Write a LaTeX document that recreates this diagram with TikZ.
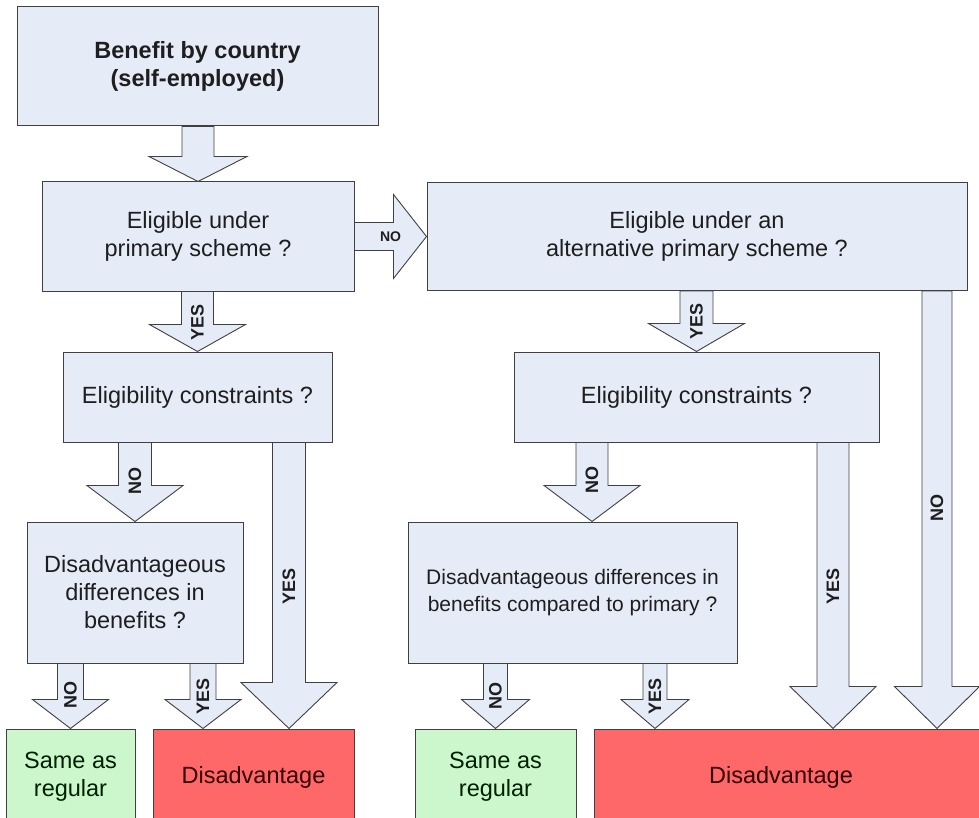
\documentclass[tikz,border=0pt]{standalone}
\usepackage{fontspec}
\setmainfont{Liberation Sans}
\usetikzlibrary{calc}
\definecolor{boxblue}{HTML}{E6ECF7}
\definecolor{samegreen}{HTML}{CCF7CC}
\definecolor{badred}{HTML}{FF6868}
\definecolor{edgegray}{HTML}{404040}
\definecolor{inkcolor}{HTML}{1E1E1E}

\tikzset{
  question/.style={draw = edgegray, fill = boxblue, line width = 1pt, rectangle, align = center,
    text = inkcolor, font = \fontsize{23.5}{28}\selectfont},
  samebox/.style={question, fill = samegreen, text = black!70!green!40!black},
  badbox/.style={question, fill = badred, text = black!80!red},
  fatarrow/.style={draw = edgegray, fill = boxblue, line width = 0.9pt, line join = miter},
  armlabel/.style={font = \bfseries\fontsize{18}{18}\selectfont, text = inkcolor, rotate = 90, inner sep = 0pt},
}

% block arrow: start (y only), tip, shaft half width, head half width, head length, label, label distance
\newcommand{\fatdown}[7]{%
  \draw [fatarrow] let \p1 = (#1), \p2 = (#2) in
    (\x2-#3pt, \y1) -- (\x2-#3pt, \y2+#5pt) -- (\x2-#4pt, \y2+#5pt) -- (\p2)
    -- (\x2+#4pt, \y2+#5pt) -- (\x2+#3pt, \y2+#5pt) -- (\x2+#3pt, \y1) -- cycle;
  \path let \p2 = (#2) in node [armlabel] at (\x2, \y2+#7pt) {#6};
}

\begin{document}
\begin{tikzpicture}[x = 1pt, y = -1pt]
        \useasboundingbox (0, 0) rectangle (979, 818);
        \clip (0, 0) rectangle (979, 818);

        % Boxes
        \node [question, minimum width = 361pt, minimum height = 119pt, font = \bfseries\fontsize{23.5}{28}\selectfont] (title) at (197.5, 66.5) {Benefit by country\\(self-employed)};
        \node [question, minimum width = 312pt, minimum height = 109pt] (elig1) at (198, 236.5) {Eligible under\\primary scheme ?};
        \node [question, minimum width = 540pt, minimum height = 108pt] (elig2) at (697, 236.5) {Eligible under an\\alternative primary scheme ?};
        \node [question, minimum width = 269pt, minimum height = 90pt] (cons1) at (197.5, 397) {Eligibility constraints ?};
        \node [question, minimum width = 365pt, minimum height = 90pt] (cons2) at (696.5, 397) {Eligibility constraints ?};
        \node [question, minimum width = 216pt, minimum height = 141pt] (dis1) at (135, 592.5) {Disadvantageous\\differences in\\benefits ?};
        \node [question, minimum width = 329pt, minimum height = 141pt, font = \fontsize{21}{27}\selectfont] (dis2) at (572.5, 592.5) {Disadvantageous differences in\\benefits compared to primary ?};
        \node [samebox, minimum width = 129pt, minimum height = 96pt] (same1) at (70.5, 777) {Same as\\regular};
        \node [badbox, minimum width = 201pt, minimum height = 96pt] (bad1) at (253.5, 777) {Disadvantage};
        \node [samebox, minimum width = 161pt, minimum height = 96pt] (same2) at (495.5, 777) {Same as\\regular};
        \node [badbox, minimum width = 396pt, minimum height = 96pt, text width = 380pt] (bad2) at (792, 777) {\hspace*{-22pt}Disadvantage};

        % Arrow tips that sit off centre
        \coordinate (dis2in) at ($(dis2.north) + (19.5, 0)$);
        \coordinate (bad1yes) at ($(bad1.north) + (35.5, 0)$);
        \coordinate (bad1in) at ($(bad1.north) + (-50.5, 0)$);
        \coordinate (bad2yes) at ($(bad2.north) + (41, 0)$);
        \coordinate (bad2no) at ($(bad2.north) + (145, 0)$);
        \coordinate (bad2in) at ($(bad2.north) + (-137, 0)$);

        % Left branch
        \fatdown{title.south}{elig1.north}{16}{49}{25}{}{0}
        \fatdown{elig1.south}{cons1.north}{16}{48}{27}{YES}{29}
        \fatdown{cons1.south}{dis1.north}{16.5}{48}{36}{NO}{41}
        \fatdown{cons1.south}{bad1yes}{16.5}{48}{46}{YES}{142}
        \fatdown{dis1.south}{same1.north}{13}{38}{29}{NO}{34}
        \fatdown{dis1.south}{bad1in}{13}{38}{29}{YES}{32}

        % Across
        \draw [fatarrow] let \p1 = (elig1.east), \p2 = (elig2.west) in
            (\x1, \y2+14pt) -- (\x2-33pt, \y2+14pt) -- (\x2-33pt, \y2+42pt) -- (\p2)
            -- (\x2-33pt, \y2-42pt) -- (\x2-33pt, \y2-14pt) -- (\x1, \y2-14pt) -- cycle;
        \node [armlabel, rotate = -90, font = \bfseries\fontsize{14}{14}\selectfont] (nolabel) at ($(elig1.east) + (36, 0)$) {NO};

        % Right branch
        \fatdown{elig2.south}{cons2.north}{16.5}{48}{28}{YES}{30}
        \fatdown{cons2.south}{dis2in}{16}{48}{36}{NO}{42}
        \fatdown{cons2.south}{bad2yes}{16}{43}{42}{YES}{142}
        \fatdown{elig2.south}{bad2no}{15}{42.5}{42}{NO}{221}
        \fatdown{dis2.south}{same2.north}{12}{34}{29}{NO}{33}
        \fatdown{dis2.south}{bad2in}{12}{34}{29}{YES}{32}

    \end{tikzpicture}
\end{document}
